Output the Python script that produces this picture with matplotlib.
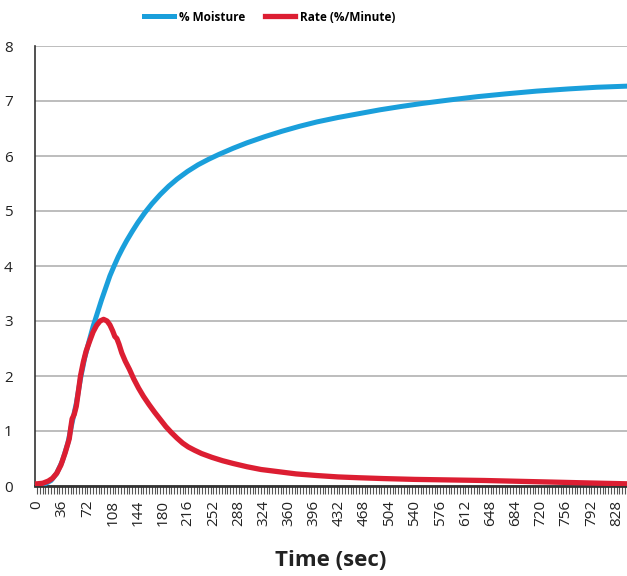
import matplotlib
matplotlib.use("Agg")
import matplotlib.pyplot as plt
import numpy as np

# % Moisture curve (time in sec, value)
moist_t = [0, 10, 20, 28, 36, 44, 50, 56, 62, 68, 74, 80, 86, 92, 98, 104, 110,
           116, 122, 128, 136, 144, 154, 164, 176, 188, 200, 215, 230, 245, 260,
           280, 300, 325, 350, 375, 400, 430, 460, 490, 520, 550, 590, 630, 670,
           714, 760, 800, 843]
moist_v = [0, 0.03, 0.1, 0.23, 0.45, 0.78, 1.15, 1.5, 1.95, 2.33, 2.62, 2.9, 3.14,
           3.38, 3.6, 3.82, 4.0, 4.17, 4.32, 4.46, 4.63, 4.79, 4.97, 5.13, 5.3,
           5.45, 5.58, 5.72, 5.84, 5.94, 6.03, 6.14, 6.24, 6.35, 6.45, 6.54, 6.62,
           6.70, 6.77, 6.84, 6.90, 6.955, 7.02, 7.08, 7.13, 7.18, 7.22, 7.25, 7.27]

# Rate (%/Minute) curve
rate_t = [0, 8, 16, 22, 28, 34, 40, 46, 48, 50, 53, 56, 59, 62, 66, 70, 75, 80,
          85, 90, 95, 100, 104, 108, 111, 114, 117, 121, 126, 132, 138, 145, 152,
          160, 168, 176, 184, 192, 200, 208, 216, 225, 235, 250, 265, 280, 300,
          320, 345, 370, 400, 430, 460, 495, 540, 590, 640, 690, 740, 790, 843]
rate_v = [0.04, 0.05, 0.09, 0.14, 0.23, 0.38, 0.6, 0.86, 1.05, 1.22, 1.3, 1.45,
          1.72, 2.0, 2.25, 2.45, 2.63, 2.8, 2.92, 3.0, 3.03, 3.0, 2.93, 2.82, 2.72,
          2.68, 2.58, 2.42, 2.27, 2.12, 1.95, 1.78, 1.63, 1.48, 1.34, 1.21, 1.08,
          0.97, 0.87, 0.78, 0.71, 0.65, 0.59, 0.52, 0.46, 0.41, 0.35, 0.30, 0.26,
          0.22, 0.19, 0.165, 0.15, 0.135, 0.12, 0.11, 0.10, 0.085, 0.07, 0.055, 0.04]

x_labels = list(range(0, 829, 36))

plt.rcParams["font.family"] = ["Open Sans", "DejaVu Sans"]

fig = plt.figure(figsize=(6.27, 5.76), dpi=100)
ax = fig.add_axes([35 / 627, 1 - 486 / 576, 1 - 35 / 627, 440 / 576])

ax.plot(moist_t, moist_v, color="#1a9fdb", lw=3.6, label="% Moisture",
        solid_joinstyle="round", zorder=3)
ax.plot(rate_t, rate_v, color="#dc1e32", lw=3.8, label="Rate (%/Minute)",
        solid_joinstyle="round", zorder=4)

ax.set_xlim(-3, 843)
ax.set_ylim(0, 8)
ax.set_yticks(range(0, 9))
ax.yaxis.grid(True, color="#bdbdbd", lw=1.4)
ax.set_axisbelow(True)
ax.tick_params(axis="y", length=0, pad=16, labelsize=11, colors="#222222")

ax.set_xticks(x_labels)
ax.set_xticklabels([str(v) for v in x_labels], rotation=90)
ax.set_xticks(np.arange(0, 844, 4), minor=True)
ax.tick_params(axis="x", which="both", length=6, width=0.8, color="#555555",
               direction="out", labelsize=11, pad=4, labelcolor="#222222")

for s in ["top", "right"]:
    ax.spines[s].set_visible(False)
ax.spines["left"].set_color("#333333")
ax.spines["left"].set_linewidth(1.2)
ax.spines["bottom"].set_color("#333333")
ax.spines["bottom"].set_linewidth(2)

ax.set_xlabel("Time (sec)", fontsize=16, fontweight="bold", labelpad=17,
              color="#222222")

fig.legend(loc="upper center", bbox_to_anchor=(270 / 627, 1.0), ncol=2,
           frameon=False, prop={"weight": "bold", "size": 8.5}, handlelength=2.5,
           columnspacing=1.7, handletextpad=0.45)

fig.savefig("out.png", dpi=100)
